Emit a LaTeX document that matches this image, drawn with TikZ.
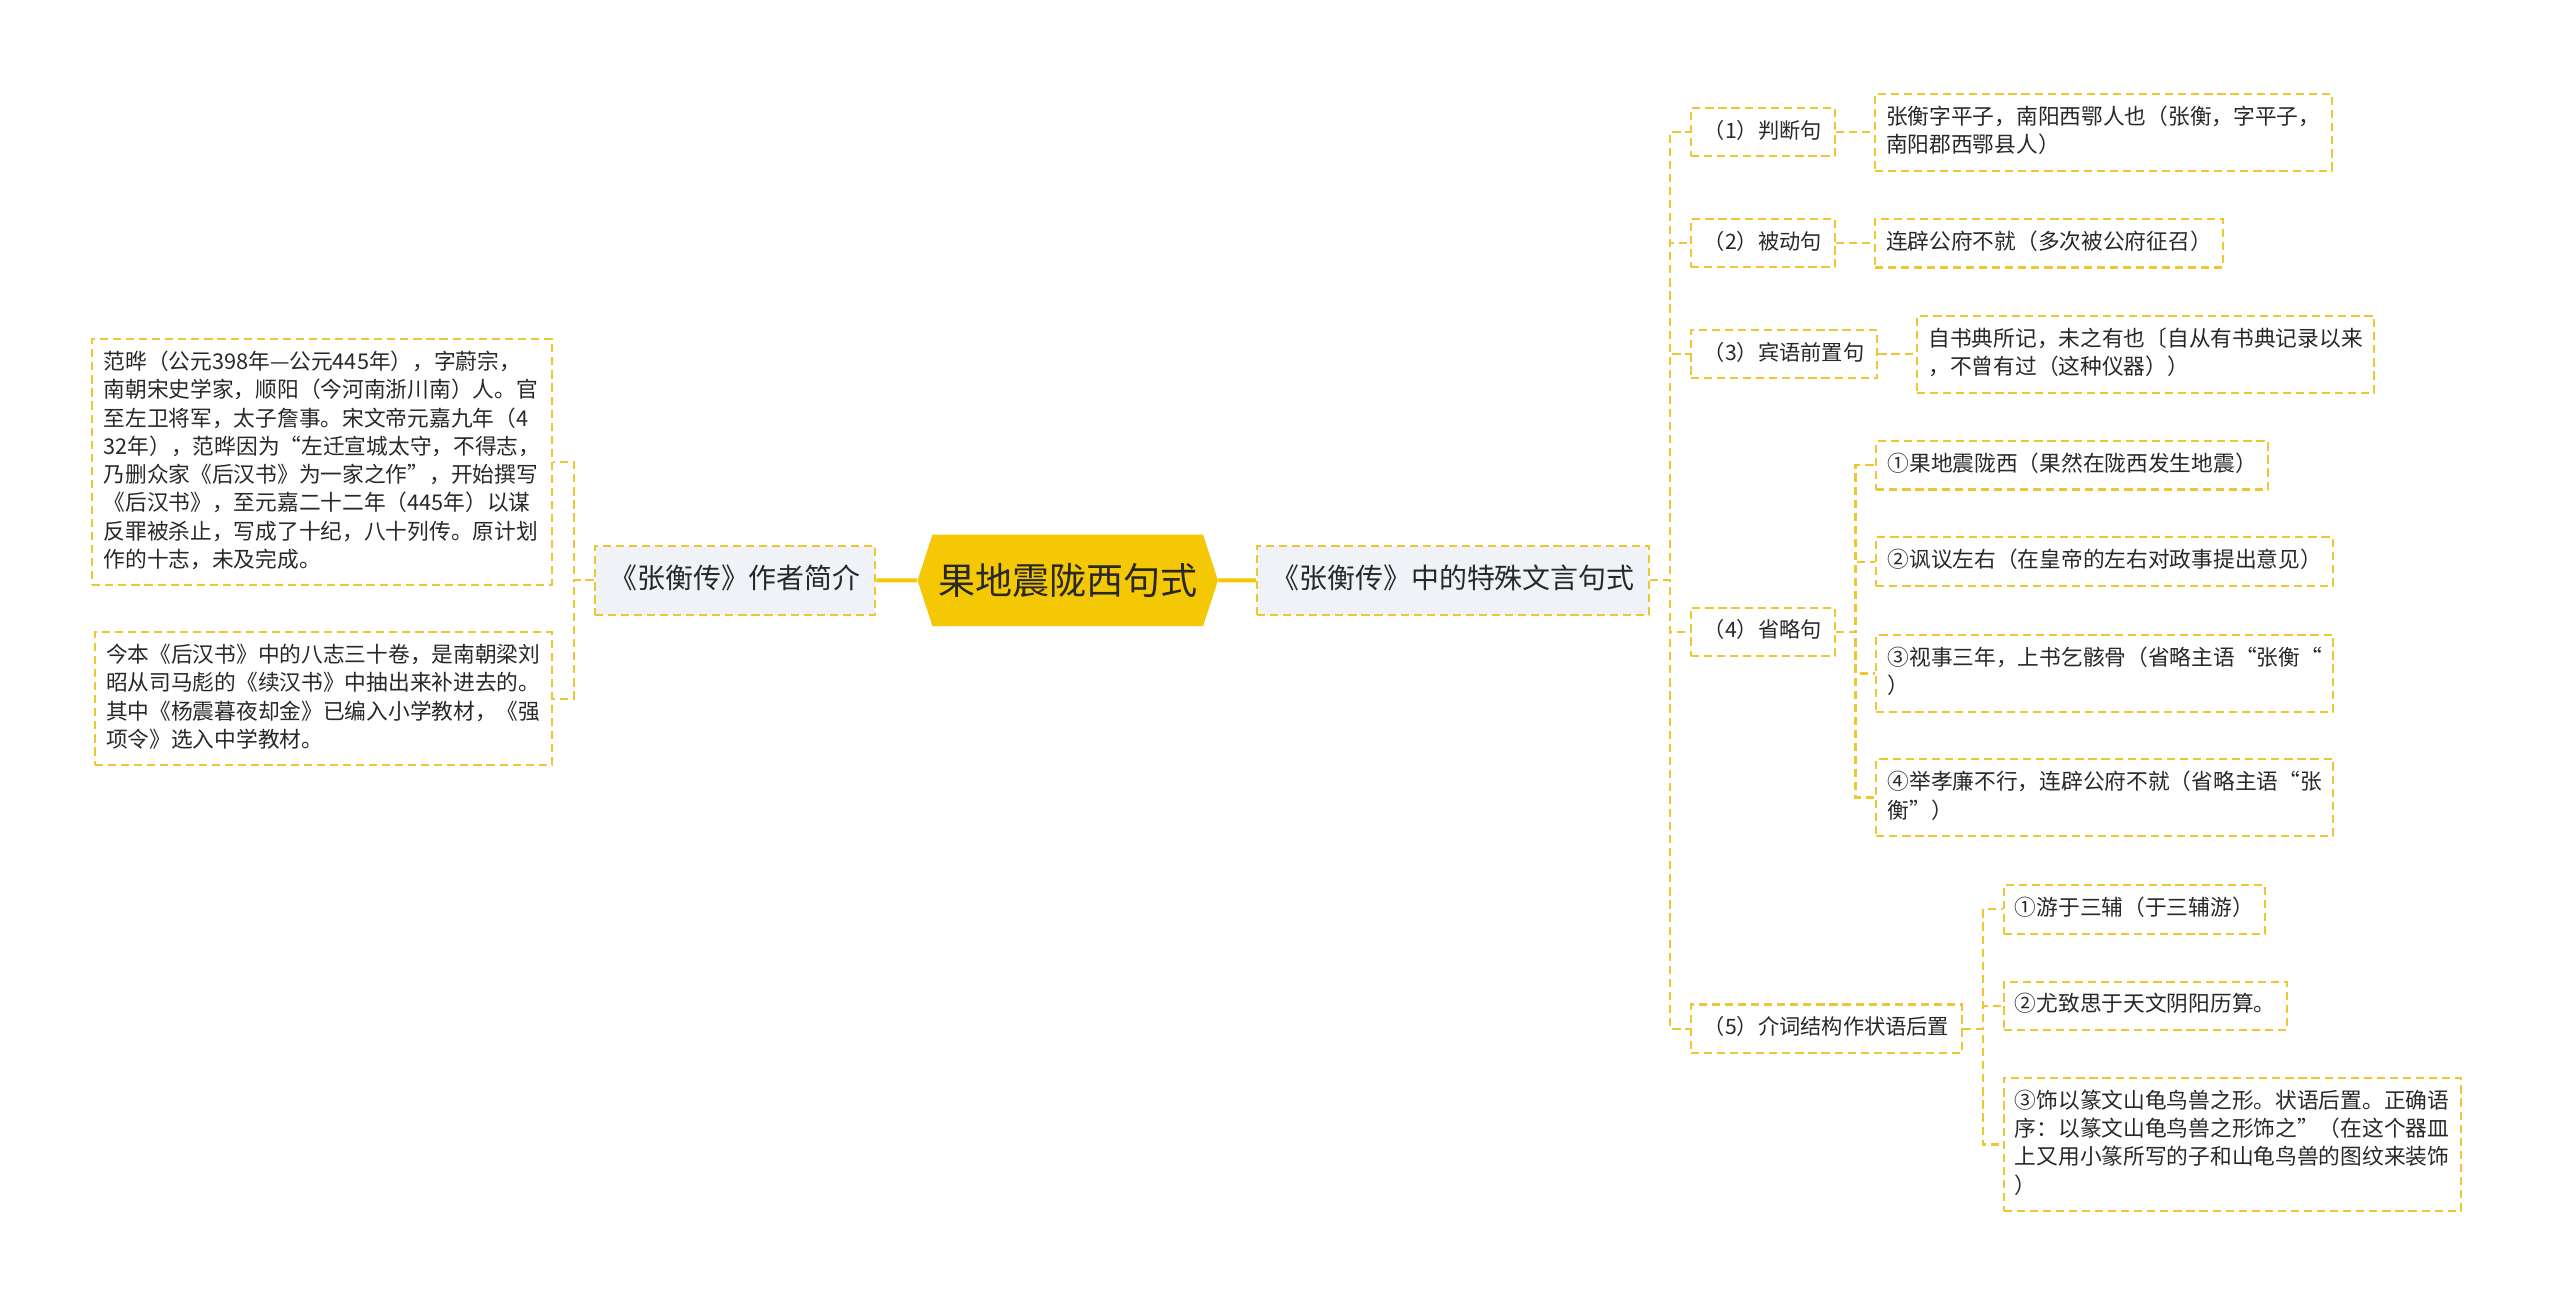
\documentclass[tikz,border=0pt]{standalone}
\usepackage{fontspec}
\setmainfont{Noto Sans CJK SC}
\definecolor{mapgold}{RGB}{245, 200, 6}
\definecolor{linegold}{RGB}{238, 198, 52}
\definecolor{topicgray}{RGB}{239, 242, 246}
\definecolor{inkgray}{RGB}{40, 40, 40}
\usetikzlibrary{positioning, shapes.symbols}
\newcommand{\lstrut}{\rule[-3.6pt]{0pt}{13.7pt}}
\tikzset{
	rootnode/.style={shape=signal, signal to=west and east, signal pointer angle=144, fill=mapgold, minimum width=184pt, minimum height=56pt, inner sep=0pt, text=inkgray, font=\fontsize{22.7pt}{26pt}\selectfont},
	topic/.style={rectangle, draw=linegold, fill=topicgray, line width=1.3pt, dash pattern=on 5pt off 3pt, minimum height=42pt, inner xsep=9pt, text height=13.6pt, text depth=3.4pt, text=inkgray, font=\fontsize{17.1pt}{20pt}\selectfont},
	branch/.style={rectangle, draw=linegold, line width=1.3pt, dash pattern=on 5pt off 3pt, inner xsep=8pt, inner ysep=7.35pt, text=inkgray, font=\fontsize{13pt}{17.3pt}\selectfont, execute at begin node=\lstrut},
	leaf/.style={branch, align=left, inner xsep=7pt, font=\fontsize{13.3pt}{17.3pt}\selectfont, execute at end node=\lstrut},
	trunk/.style={draw=mapgold, line width=2.5pt},
	link/.style={draw=linegold, line width=1.3pt, dash pattern=on 5pt off 3pt},
}
\begin{document}
\begin{tikzpicture}[x=1pt, y=-1pt]
	\useasboundingbox (0,0) rectangle (1568,800);
	\node[rootnode] (root) at (654,355.5) {果地震陇西句式};
	\node[topic, left=25pt of root] (intro) {《张衡传》作者简介};
	\node[topic, right=23pt of root] (syntax) {《张衡传》中的特殊文言句式};
	\draw[trunk] (root) -- (intro);
	\draw[trunk] (root) -- (syntax);

	\node[leaf, left=25pt of intro, yshift=72.5pt] (bioA) {范晔（公元398年—公元445年），字蔚宗，\\南朝宋史学家，顺阳（今河南浙川南）人。官\\至左卫将军，太子詹事。宋文帝元嘉九年（4\\32年），范晔因为“左迁宣城太守，不得志，\\乃删众家《后汉书》为一家之作”，开始撰写\\《后汉书》，至元嘉二十二年（445年）以谋\\反罪被杀止，写成了十纪，八十列传。原计划\\作的十志，未及完成。};
	\node[leaf, left=25pt of intro, yshift=-72.5pt] (bioB) {今本《后汉书》中的八志三十卷，是南朝梁刘\\昭从司马彪的《续汉书》中抽出来补进去的。\\其中《杨震暮夜却金》已编入小学教材，《强\\项令》选入中学教材。};
	\foreach \kid in {bioA, bioB}
		\draw[link] (intro.west) -- ++(-12pt,0) |- (\kid.east);

	\node[branch, anchor=west] (judge) at (1035,81) {（1）判断句};
	\node[branch, anchor=west] (passive) at (1035,149) {（2）被动句};
	\node[branch, anchor=west] (object) at (1035,217) {（3）宾语前置句};
	\node[branch, anchor=west] (omit) at (1035,387) {（4）省略句};
	\node[branch, anchor=west] (prep) at (1035,630) {（5）介词结构作状语后置};
	\foreach \kid in {judge, passive, object, omit, prep}
		\draw[link] (syntax.east) -- ++(12pt,0) |- (\kid.west);

	\node[leaf, right=23pt of judge] (judgeA) {张衡字平子，南阳西鄂人也（张衡，字平子，\\南阳郡西鄂县人）};
	\node[leaf, right=23pt of passive] (passiveA) {连辟公府不就（多次被公府征召）};
	\node[leaf, right=23pt of object] (objectA) {自书典所记，未之有也〔自从有书典记录以来\\，不曾有过（这种仪器））};
	\draw[link] (judge) -- (judgeA);
	\draw[link] (passive) -- (passiveA);
	\draw[link] (object) -- (objectA);

	\node[leaf, right=24pt of omit, yshift=102pt] (omitA) {①果地震陇西（果然在陇西发生地震）};
	\node[leaf, right=24pt of omit, yshift=43pt] (omitB) {②讽议左右（在皇帝的左右对政事提出意见）};
	\node[leaf, right=24pt of omit, yshift=-25.5pt] (omitC) {③视事三年，上书乞骸骨（省略主语“张衡“\\）};
	\node[leaf, right=24pt of omit, yshift=-101.5pt] (omitD) {④举孝廉不行，连辟公府不就（省略主语“张\\衡”）};
	\foreach \kid in {omitA, omitB, omitC, omitD}
		\draw[link] (omit.east) -- ++(12pt,0) |- (\kid.west);

	\node[leaf, right=24pt of prep, yshift=73pt] (prepA) {①游于三辅（于三辅游）};
	\node[leaf, right=24pt of prep, yshift=14pt] (prepB) {②尤致思于天文阴阳历算。};
	\node[leaf, right=24pt of prep, yshift=-71pt] (prepC) {③饰以篆文山龟鸟兽之形。状语后置。正确语\\序：以篆文山龟鸟兽之形饰之”（在这个器皿\\上又用小篆所写的子和山龟鸟兽的图纹来装饰\\）};
	\foreach \kid in {prepA, prepB, prepC}
		\draw[link] (prep.east) -- ++(12pt,0) |- (\kid.west);
\end{tikzpicture}
\end{document}
